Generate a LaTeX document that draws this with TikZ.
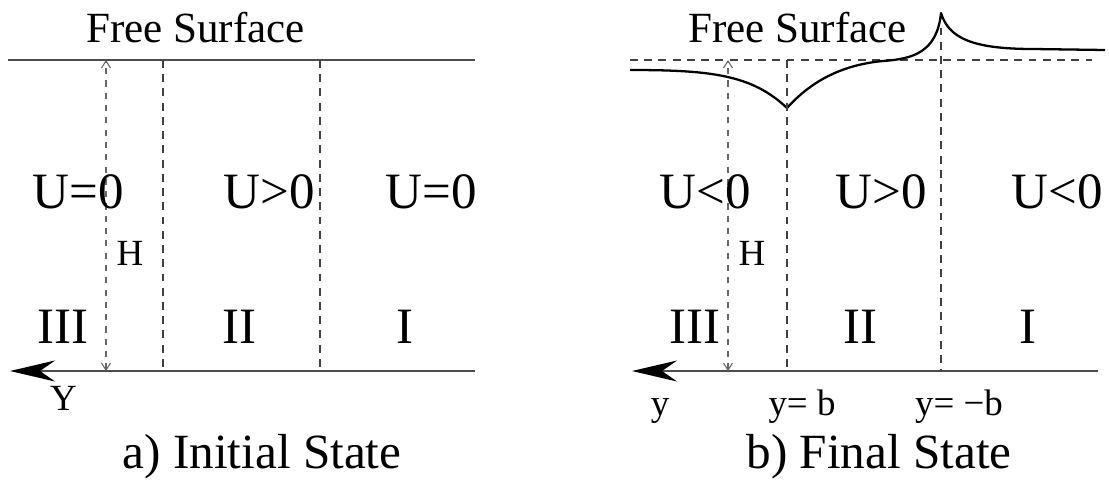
\documentclass[tikz,border=0pt]{standalone}
\usepackage{fontspec}
\setmainfont{Liberation Serif}
\usetikzlibrary{arrows.meta}
\tikzset{
  wline/.style ={line width=1.3pt, black!70},
  waxis/.style ={wline, -{Stealth[length=9mm, width=4.2mm, inset=3mm, black]}},
  wdash/.style ={line width=1pt, black!75, dash pattern=on 4.5pt off 3.6pt},
  wsurf/.style ={line width=1.3pt, black, line join=round},
  hdim/.style  ={line width=0.6pt, black!60, dash pattern=on 3.5pt off 3.5pt,
                 {Straight Barb[length=1.4mm, width=1.8mm]}-{Straight Barb[length=1.4mm, width=1.8mm]}},
  toplab/.style={font=\fontsize{24.5}{29}\selectfont, anchor=base},
  zonelab/.style={font=\fontsize{29}{34}\selectfont, anchor=base},
  axlab/.style ={font=\fontsize{21}{25}\selectfont, anchor=base},
  caption/.style={font=\fontsize{28}{33}\selectfont, anchor=base},
}

\begin{document}
\begin{tikzpicture}
  \useasboundingbox (0,0) rectangle (22.18,9.6);
  % a) initial state
  \begin{scope}
    \coordinate (aT0) at (0.16,8.4);
    \coordinate (aT1) at (9.5,8.4);
    \coordinate (aB0) at (0.2,2.18);
    \coordinate (aB1) at (9.5,2.18);
    \draw[wline] (aT0) -- (aT1);
    \draw[waxis] (aB1) -- (aB0);
    \foreach \i/\x in {1/3.26,2/6.4} {
      \coordinate (aVt\i) at (\x,8.4);
      \coordinate (aVb\i) at (\x,2.18);
      \draw[wdash] (aVt\i) -- (aVb\i);
    }
    \coordinate (aHt) at (2.12,8.4);
    \coordinate (aHb) at (2.12,2.18);
    \draw[hdim] (aHb) -- (aHt);
    \node[axlab] (aH) at (2.6,4.3) {H};
    \node[toplab] (aFS) at (3.91,8.76) {Free Surface};
    \foreach \i/\lab/\x in {1/U=0/1.56,2/U>0/5.38,3/U=0/8.62} {
      \node[zonelab] (aU\i) at (\x,5.44) {\lab};
    }
    \foreach \i/\lab/\x in {1/III/1.26,2/II/4.78,3/I/8.1} {
      \node[zonelab] (aR\i) at (\x,2.74) {\lab};
    }
    \node[axlab] (aY) at (1.27,1.4) {Y};
    \node[caption] (aCap) at (5.24,0.24) {a) Initial State};
  \end{scope}
  % b) final state
  \begin{scope}[shift={(12.44,0)}]
    \coordinate (bD0) at (0.16,8.4);
    \coordinate (bD1) at (9.4,8.4);
    \draw[wdash] (bD0) -- (bD1);
    \coordinate (bS0)   at (0.16,8.2);
    \coordinate (bMin)  at (3.3,7.44);
    \coordinate (bMid)  at (5.22,8.38);
    \coordinate (bPk)   at (6.38,9.34);
    \coordinate (bFlat) at (8.22,8.62);
    \coordinate (bS1)   at (9.66,8.6);
    \draw[wsurf] (bS0) .. controls (1.8,8.2) and (2.6,8.1) .. (bMin)
                       .. controls (3.76,7.95) and (4.36,8.3) .. (bMid)
                       .. controls (5.81,8.42) and (6.3,8.55) .. (bPk)
                       .. controls (6.53,8.85) and (6.98,8.62) .. (bFlat) -- (bS1);
    \coordinate (bB0) at (0.2,2.18);
    \coordinate (bB1) at (9.52,2.18);
    \draw[waxis] (bB1) -- (bB0);
    \foreach \i/\x/\y in {1/3.3/8.4,2/6.38/9.05} {
      \coordinate (bVt\i) at (\x,\y);
      \coordinate (bVb\i) at (\x,2.18);
      \draw[wdash] (bVt\i) -- (bVb\i);
    }
    \coordinate (bHt) at (2.12,8.4);
    \coordinate (bHb) at (2.12,2.18);
    \draw[hdim] (bHb) -- (bHt);
    \node[axlab] (bH) at (2.6,4.3) {H};
    \node[toplab] (bFS) at (3.51,8.76) {Free Surface};
    \foreach \i/\lab/\x in {1/U<0/1.66,2/U>0/5.18,3/U<0/8.7} {
      \node[zonelab] (bU\i) at (\x,5.44) {\lab};
    }
    \foreach \i/\lab/\x in {1/III/1.46,2/II/4.76,3/I/8.12} {
      \node[zonelab] (bR\i) at (\x,2.74) {\lab};
    }
    \node[axlab] (by)  at (0.76,1.3) {y};
    \node[axlab] (byb) at (3.6,1.3)  {y= b};
    \node[axlab] (bym) at (6.74,1.3) {y= −b};
    \node[caption] (bCap) at (5.14,0.24) {b) Final State};
  \end{scope}
\end{tikzpicture}
\end{document}
